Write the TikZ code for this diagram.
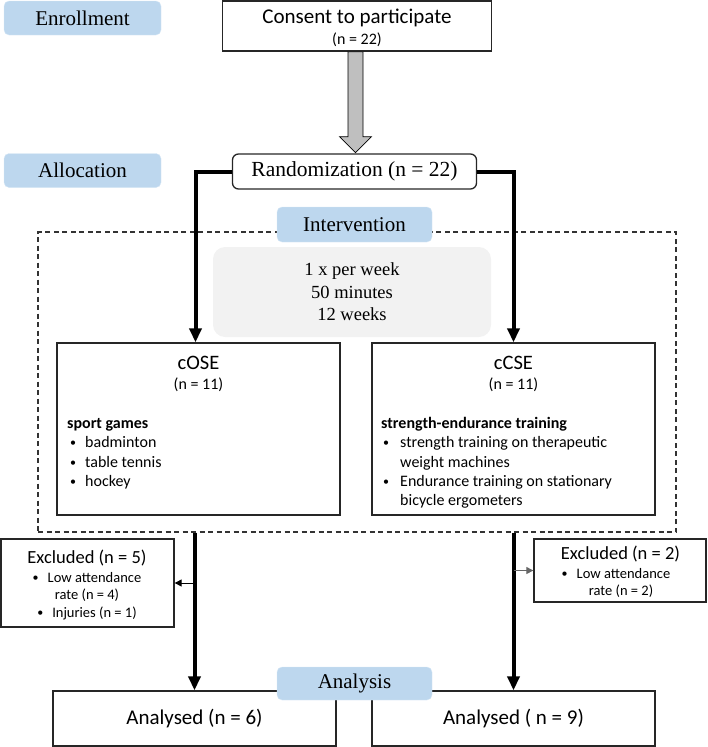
\documentclass[tikz,border=0pt]{standalone}
\usepackage{fontspec}
\setmainfont{Liberation Serif}
\newfontfamily\carlito{Carlito}
\usetikzlibrary{arrows.meta}
\definecolor{phaseblue}{HTML}{BDD7EE}
\definecolor{dosegray}{HTML}{F2F2F2}
\definecolor{fatgray}{HTML}{BFBFBF}
\newcommand{\sbul}{\raisebox{0.8pt}{\fontsize{12}{12}\selectfont\textbullet}}

\begin{document}
\begin{tikzpicture}[x=1pt,y=-1pt,
    phase/.style={fill=phaseblue,draw=phaseblue!60,rounded corners=5pt,minimum width=157pt,
        minimum height=34pt,inner sep=0pt,font=\fontsize{21}{24}\selectfont},
    box/.style={draw=black!85,line width=1.3pt,minimum width=283pt,inner sep=0pt},
    sans/.style={font=\carlito\fontsize{16}{19}\selectfont},
    item/.style={sans,anchor=base west,inner sep=0pt},
    excl/.style={font=\carlito\fontsize{14.5}{17}\selectfont,anchor=base,inner sep=0pt},
    flow/.style={line width=4pt,-{Triangle[width=12pt,length=14pt]}},
    side/.style={line width=1pt,-{Triangle[width=7pt,length=7pt]}}]
    \useasboundingbox (0,0) rectangle (708,747);

    % enrollment
    \node[phase] (enrol) at (82.5,18) {Enrollment};
    \node[box,minimum width=269pt,minimum height=50pt] (consent) at (357,26) {};
    \node[font=\carlito\fontsize{21}{25}\selectfont,anchor=base] (consentT) at (357,23) {Consent to participate};
    \node[sans,anchor=base] (consentN) at (357,44.5) {(n = 22)};
    \draw[fill=fatgray,line width=0.8pt] (consent.south) ++(-9,0) -- ++(15,0) -- ++(0,85)
        -- ++(8.5,0) -- ++(-16,16) -- ++(-16,-16) -- ++(8.5,0) -- cycle;

    % allocation
    \node[phase] (alloc) at (82.5,170.5) {Allocation};
    \node[draw=black!85,line width=1.3pt,rounded corners=6pt,minimum width=244pt,minimum height=35pt,
        font=\fontsize{21.5}{25}\selectfont] (rand) at (354.5,171.5) {Randomization (n = 22)};

    % intervention
    \node[draw=black!80,line width=1.1pt,dash pattern=on 5pt off 3.5pt,minimum width=638pt,
        minimum height=300pt,inner sep=0pt] (trial) at (357,382) {};
    \node[phase,minimum width=155pt,minimum height=35pt] (interv) at (354.5,224.5) {Intervention};
    \node[fill=dosegray,rounded corners=12pt,minimum width=278pt,minimum height=90pt,align=center,
        font=\fontsize{18.5}{22.5}\selectfont] (dose) at (352,292) {1 x per week\\50 minutes\\12 weeks};

    \node[box,minimum height=172pt] (cose) at (198.5,429) {};
    \node[font=\carlito\fontsize{20.5}{24}\selectfont,anchor=base] (coseT) at (198.5,369) {cOSE};
    \node[sans,anchor=base] (coseN) at (198.5,389.5) {(n = 11)};
    \node[item] (coseH) at (67,428) {\bfseries sport games};
    \node[item] (coseA) at (70,447.5) {\makebox[15pt][l]{\sbul}badminton};
    \node[item] (coseB) at (70,467) {\makebox[15pt][l]{\sbul}table tennis};
    \node[item] (coseC) at (70,486) {\makebox[15pt][l]{\sbul}hockey};

    \node[box,minimum height=172pt] (ccse) at (513.5,429) {};
    \node[font=\carlito\fontsize{20.5}{24}\selectfont,anchor=base] (ccseT) at (513.5,369) {cCSE};
    \node[sans,anchor=base] (ccseN) at (513.5,389.5) {(n = 11)};
    \node[item] (ccseH) at (381,428) {\bfseries strength-endurance training};
    \node[item] (ccseA) at (383,447.5) {\makebox[17pt][l]{\sbul}strength training on therapeutic};
    \node[item] (ccseB) at (400,467) {weight machines};
    \node[item] (ccseC) at (383,486) {\makebox[17pt][l]{\sbul}Endurance training on stationary};
    \node[item] (ccseD) at (400,505.5) {bicycle ergometers};

    \draw[flow] (rand.west) -| ([xshift=-3pt]cose.north);
    \draw[flow] (rand.east) -| (ccse.north);

    % exclusions
    \node[box,minimum width=173pt,minimum height=88pt] (excl1) at (87.5,583) {};
    \node[font=\carlito\fontsize{18.5}{22}\selectfont,anchor=base] (excl1T) at (87,563) {Excluded (n = 5)};
    \node[excl] (excl1A) at (87,582.5) {\sbul\hspace{9pt}Low attendance};
    \node[excl] (excl1B) at (87,599.5) {rate (n = 4)};
    \node[excl] (excl1C) at (87,617) {\sbul\hspace{9pt}Injuries (n = 1)};

    \node[box,minimum width=172pt,minimum height=63pt] (excl2) at (620,570.5) {};
    \node[font=\carlito\fontsize{18.5}{22}\selectfont,anchor=base] (excl2T) at (620.5,559) {Excluded (n = 2)};
    \node[excl] (excl2A) at (616,578) {\sbul\hspace{9pt}Low attendance};
    \node[excl] (excl2B) at (621,595.5) {rate (n = 2)};

    % analysis
    \node[box,minimum height=55pt,font=\carlito\fontsize{21}{25}\selectfont] (ana1) at (194.5,718.5) {Analysed (n = 6)};
    \node[box,minimum height=55pt,font=\carlito\fontsize{21}{25}\selectfont] (ana2) at (513.5,718.5) {Analysed ( n = 9)};
    \node[phase,minimum width=155pt,minimum height=33pt] (analysis) at (354.5,683.5) {Analysis};

    \draw[flow] (trial.south -| ana1.north) -- (ana1.north);
    \draw[flow] (trial.south -| ana2.north) -- (ana2.north);
    \draw[side] (ana1.north |- excl1.east) -- (excl1.east);
    \draw[side,black!60] (ana2.north |- excl2.west) -- (excl2.west);
\end{tikzpicture}
\end{document}
